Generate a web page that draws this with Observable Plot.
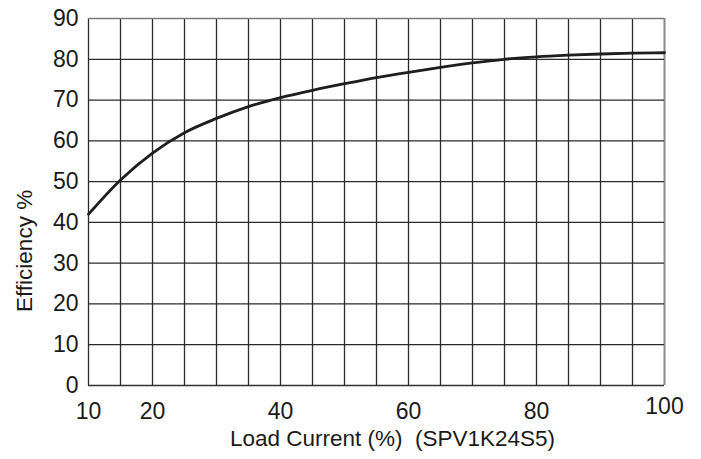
<!DOCTYPE html>
<html>
<head>
<meta charset="utf-8">
<script src="https://cdn.jsdelivr.net/npm/d3@7"></script>
<script src="https://cdn.jsdelivr.net/npm/@observablehq/plot@0.6"></script>
<style>
  html, body { margin: 0; padding: 0; background: #fff; }
  #chart svg { display: block; }
</style>
</head>
<body>
<div id="chart"></div>
<script>
// Load current (%) and efficiency (%)
const loadCurrent = [10, 15, 20, 25, 30, 35, 40, 45, 50, 55, 60, 65, 70, 75, 80, 85, 90, 95, 100];
const efficiency  = [42.0, 50.4, 57.0, 62.0, 65.5, 68.4, 70.6, 72.4, 74.0, 75.5, 76.8, 78.0, 79.1, 80.0, 80.6, 81.0, 81.3, 81.5, 81.6];

// Grid lines and tick labels
const xGrid = [10, 15, 20, 25, 30, 35, 40, 45, 50, 55, 60, 65, 70, 75, 80, 85, 90, 95, 100];
const yGrid = [0, 10, 20, 30, 40, 50, 60, 70, 80, 90];
const xTickLabels = [10, 20, 40, 60, 80];
const xTickLabelsRaised = [100];
const yTickLabels = [0, 10, 20, 30, 40, 50, 60, 70, 80, 90];

const xTitle = "Load Current (%)  (SPV1K24S5)";
const yTitle = "Efficiency %";

const data = loadCurrent.map((x, i) => ({x, y: efficiency[i]}));

const font = "'Liberation Sans', Arial, Helvetica, sans-serif";

const chart = Plot.plot({
  width: 701,
  height: 459,
  marginLeft: 88,
  marginRight: 37,
  marginTop: 18,
  marginBottom: 74,
  style: {fontFamily: font, fontSize: "23px", color: "#1a1a1a", background: "#fff"},
  x: {domain: [10, 100]},
  y: {domain: [0, 90]},
  marks: [
    Plot.ruleX(xGrid.filter(d => d !== 100), {stroke: "#2a2a2a", strokeWidth: 1.3}),
    Plot.ruleX([100], {stroke: "#8a8a8a", strokeWidth: 2}),
    Plot.ruleY(yGrid.filter(d => d !== 90 && d !== 0), {stroke: "#2a2a2a", strokeWidth: 1.3}),
    Plot.ruleY([90], {stroke: "#7a7a7a", strokeWidth: 1.6}),
    Plot.ruleY([0], {stroke: "#333", strokeWidth: 1.6}),
    Plot.line(data, {x: "x", y: "y", stroke: "#1e1e1e", strokeWidth: 2.8, curve: "monotone-x"}),
    Plot.axisY(yTickLabels, {tickSize: 0, tickPadding: 10, label: null, fontSize: 23}),
    Plot.axisX(xTickLabels, {tickSize: 0, tickPadding: 17, label: null, fontSize: 23}),
    Plot.axisX(xTickLabelsRaised, {tickSize: 0, tickPadding: 12, label: null, fontSize: 23}),
    Plot.text([yTitle], {text: d => d, y: () => 33, frameAnchor: "left", textAnchor: "middle", dx: -64, rotate: -90, fontSize: 22.5}),
    Plot.text([xTitle], {text: d => d, x: () => 57.5, frameAnchor: "bottom", dy: 60, fontSize: 22.5})
  ]
});

document.getElementById("chart").appendChild(chart);
</script>
</body>
</html>
